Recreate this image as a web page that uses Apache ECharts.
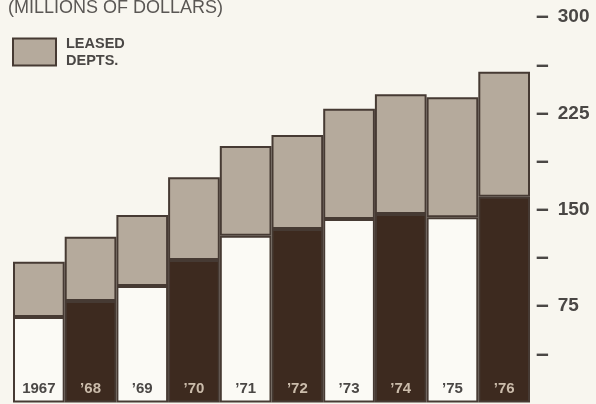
<!DOCTYPE html>
<html>
<head>
<meta charset="utf-8">
<script src="https://cdn.jsdelivr.net/npm/echarts@6/dist/echarts.min.js"></script>
<style>
  html, body { margin: 0; padding: 0; background: #f8f6ef; }
  #chart { width: 596px; height: 404px; }
</style>
</head>
<body>
<div id="chart"></div>
<script>
// Sales in millions of dollars, 1967-1976
const years = ['1967', '’68', '’69', '’70', '’71', '’72', '’73', '’74', '’75', '’76'];
const ownedDepts = [66.5, 79, 90.7, 110.9, 129.8, 135, 142.8, 146.7, 144.1, 160.2];
const leasedDepts = [43.1, 50, 55.2, 64.4, 69.8, 73.2, 85.8, 93.1, 93.4, 97.2];
const axisTicks = [0, 37.5, 75, 112.5, 150, 187.5, 225, 262.5, 300];

const edge = '#463a33';
const paleBar = '#fbfaf5';
const darkBar = '#3d2a1f';
const leasedColor = '#b5aa9c';
const inkColor = '#4a4745';

const ownedData = ownedDepts.map((v, i) => {
  const dark = i % 2 === 1;
  return {
    value: v,
    itemStyle: { color: dark ? darkBar : paleBar },
    label: { color: dark ? '#cbbcab' : inkColor }
  };
});

const chart = echarts.init(document.getElementById('chart'));
chart.setOption({
  backgroundColor: '#f8f6ef',
  animation: false,
  title: {
    text: '(MILLIONS OF DOLLARS)',
    left: 3,
    top: -6,
    textStyle: { fontFamily: 'Liberation Sans', fontSize: 18, fontWeight: 'normal', color: '#5a5754' }
  },
  legend: {
    data: ['LEASED DEPTS.'],
    left: 12,
    top: 35,
    padding: 0,
    itemWidth: 43,
    itemHeight: 27,
    icon: 'rect',
    formatter: () => 'LEASED\nDEPTS.',
    textStyle: {
      fontFamily: 'Liberation Sans', fontSize: 14.5, fontWeight: 'bold', color: inkColor,
      lineHeight: 17, padding: [0, 0, 0, 5]
    }
  },
  grid: { left: 13, right: 66, top: 17, bottom: 1.5 },
  xAxis: {
    type: 'category',
    data: years,
    axisLine: { show: false },
    axisTick: { show: false },
    axisLabel: { show: false }
  },
  yAxis: {
    type: 'value',
    position: 'right',
    min: 0,
    max: 300,
    interval: 37.5,
    splitLine: { show: false },
    axisLine: { show: false },
    axisTick: { show: false },
    axisLabel: {
      margin: 6,
      align: 'left',
      fontFamily: 'Liberation Sans',
      fontSize: 19,
      fontWeight: 'bold',
      color: inkColor,
      formatter: (v) => {
        if (!axisTicks.includes(v) || v === 0) return '';
        return v % 75 === 0 ? '{d|–}{n|' + v + '}' : '{d|–}';
      },
      rich: {
        d: { fontFamily: 'Liberation Sans', fontSize: 23, fontWeight: 'bold', color: inkColor },
        n: { fontFamily: 'Liberation Sans', fontSize: 19, fontWeight: 'bold', color: inkColor, padding: [0, 0, 0, 9] }
      }
    }
  },
  series: [
    {
      name: 'OWNED DEPTS.',
      type: 'bar',
      stack: 'sales',
      barCategoryGap: '0%',
      data: ownedData,
      itemStyle: { borderColor: edge, borderWidth: 2 },
      label: {
        show: true,
        position: 'insideBottom',
        distance: 6,
        formatter: (p) => years[p.dataIndex],
        fontFamily: 'Liberation Sans',
        fontSize: 15,
        fontWeight: 'bold'
      }
    },
    {
      name: 'LEASED DEPTS.',
      type: 'bar',
      stack: 'sales',
      barCategoryGap: '0%',
      data: leasedDepts,
      itemStyle: { color: leasedColor, borderColor: edge, borderWidth: 2 }
    }
  ]
});
</script>
</body>
</html>
